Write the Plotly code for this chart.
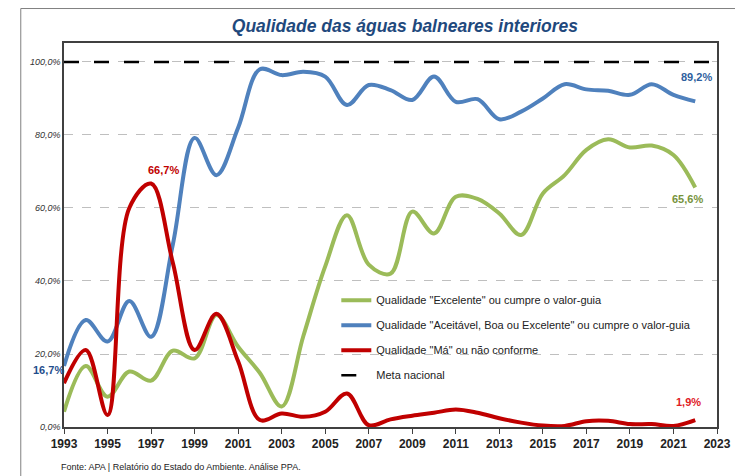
import plotly.graph_objects as go

years = list(range(1993, 2023))
excelente = [4.2, 16.7, 8.3, 15.2, 12.7, 20.9, 18.8, 30.7, 22.0, 14.8, 5.6, 25.0, 44.0, 58.0, 44.5,
             42.0, 59.0, 53.0, 63.1, 62.5, 58.5, 52.6, 64.0, 69.0, 75.9, 78.8, 76.6, 77.1, 74.5, 65.6]
aceitavel = [16.7, 29.3, 23.4, 34.5, 24.7, 50.0, 79.2, 69.0, 82.0, 98.0, 96.4, 97.3, 96.0, 88.2, 93.7,
             92.3, 89.6, 96.0, 89.1, 89.8, 84.3, 86.4, 90.0, 93.9, 92.5, 92.1, 91.0, 93.9, 91.0, 89.2]
ma = [12.0, 21.1, 3.3, 60.0, 66.7, 45.0, 21.1, 31.0, 18.0, 1.9, 3.7, 2.8, 4.2, 9.2, 0.5,
      2.1, 3.1, 3.9, 4.8, 3.9, 2.4, 1.2, 0.4, 0.3, 1.6, 1.7, 0.8, 0.8, 0.3, 1.9]
meta_x = [1993, 2023]
meta_y = [100, 100]

names = ['Qualidade "Excelente" ou cumpre o valor-guia',
         'Qualidade "Aceitável, Boa ou Excelente" ou cumpre o valor-guia',
         'Qualidade "Má" ou não conforme',
         'Meta nacional']
GREEN, BLUE, RED = "#9BBB59", "#4F81BD", "#C00000"

fig = go.Figure()
for i, (ys, col) in enumerate([(excelente, GREEN), (aceitavel, BLUE), (ma, RED)]):
    fig.add_trace(go.Scatter(x=years, y=ys, mode="lines", name=names[i], legendgroup=str(i),
                             line=dict(color=col, width=4, shape="spline", smoothing=1.0)))
fig.add_trace(go.Scatter(x=meta_x, y=meta_y, mode="lines", name=names[3], legendgroup="3",
                         line=dict(color="black", width=2.5, dash="longdash")))

FONT = "Liberation Sans, Arial, sans-serif"
ann = [
    dict(x=1993, y=16.7, text="16,7%", color="#1F4E8C", xshift=-16, yshift=-4),
    dict(x=1997, y=66.7, text="66,7%", color=RED, xshift=12, yshift=14),
    dict(x=2022, y=89.2, text="89,2%", color="#2F5F9E", xshift=1, yshift=24),
    dict(x=2022, y=65.6, text="65,6%", color="#77933C", xshift=-8, yshift=-11),
    dict(x=2022, y=1.9, text="1,9%", color="#E0201F", xshift=-7, yshift=18),
]
for a in ann:
    fig.add_annotation(x=a["x"], y=a["y"], text=a["text"], showarrow=False,
                       xshift=a["xshift"], yshift=a["yshift"],
                       font=dict(family=FONT, size=11, color=a["color"], weight="bold"))

fig.add_annotation(xref="paper", yref="paper", x=-0.008, y=-0.104, xanchor="left", yanchor="middle",
                   text="Fonte: APA | Relatório do Estado do Ambiente. Análise PPA.", showarrow=False,
                   font=dict(family=FONT, size=9, color="#222"))

fig.update_layout(
    width=735, height=468,
    margin=dict(l=56, r=14, t=35, b=49),
    paper_bgcolor="white", plot_bgcolor="white",
    title=dict(text="Qualidade das águas balneares interiores", x=0.540, xanchor="center",
               y=0.9615, yanchor="middle",
               font=dict(family=FONT, size=17.5, color="#1F497D", weight="bold", style="italic")),
    font=dict(family=FONT),
    showlegend=True,
    legend=dict(x=0.417, y=0.368, xanchor="left", yanchor="top", bgcolor="rgba(0,0,0,0)",
                font=dict(family=FONT, size=11, color="#222"), tracegroupgap=6,
                itemwidth=30),
    xaxis=dict(range=[1993, 2023], tickmode="array", tickvals=list(range(1993, 2024, 2)),
               ticktext=[str(v) for v in range(1993, 2024, 2)],
               showgrid=False, showline=True, linecolor="#404040", linewidth=1.5, mirror=True,
               ticks="outside", ticklen=5, tickcolor="#404040",
               tickfont=dict(family=FONT, size=12, color="#222", weight="bold"), zeroline=False),
    yaxis=dict(range=[0, 105.2], tickmode="array", tickvals=[0, 20, 40, 60, 80, 100],
               ticktext=["0,0%", "20,0%", "40,0%", "60,0%", "80,0%", "100,0%"],
               showgrid=True, gridcolor="#BFBFBF", griddash="dash", gridwidth=1,
               showline=True, linecolor="#404040", linewidth=1.5, mirror=True,
               ticks="", tickfont=dict(family=FONT, size=9, color="#333", style="italic"),
               zeroline=False),
    shapes=[
        dict(type="line", xref="paper", yref="paper", x0=-0.0662, x1=1.03, y0=1.0898, y1=1.0898,
             line=dict(color="#808080", width=1)),
        dict(type="line", xref="paper", yref="paper", x0=-0.0662, x1=-0.0662, y0=-0.13, y1=1.0898,
             line=dict(color="#808080", width=1)),
    ],
)

fig.write_html("out.html")
